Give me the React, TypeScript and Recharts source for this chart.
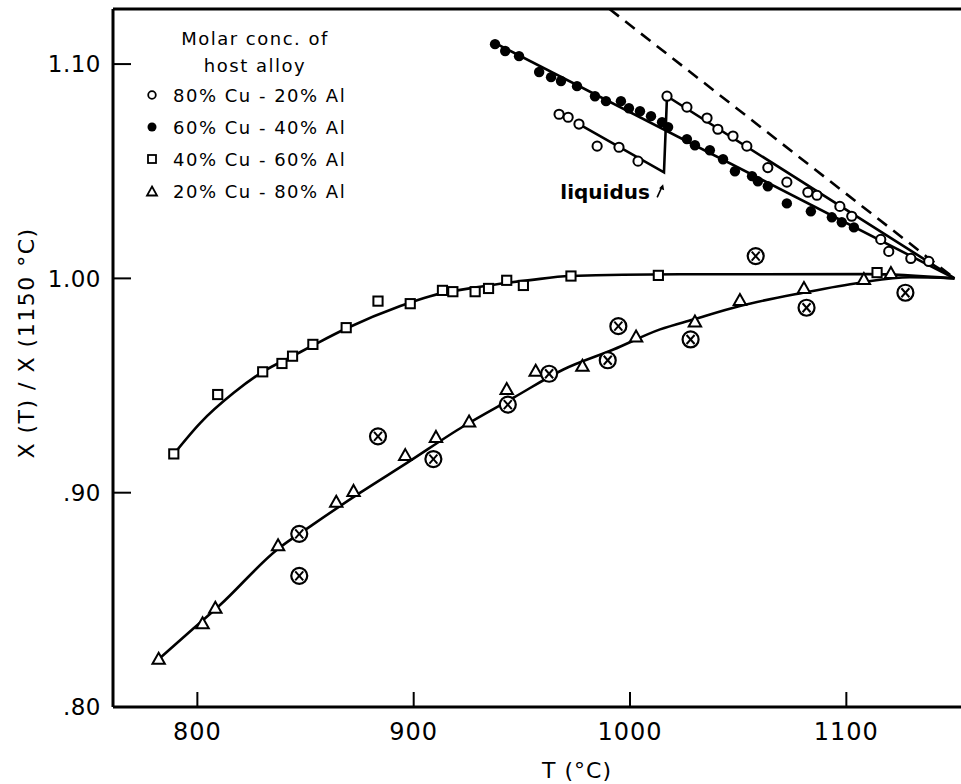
import React from 'react';
import {
  ComposedChart,
  Line,
  Scatter,
  XAxis,
  YAxis,
  ReferenceLine,
  ReferenceDot,
  Legend,
  Label,
} from 'recharts';

const FONT = '"DejaVu Sans", sans-serif';

const X_DOMAIN = [761, 1153];
const Y_MAX = 1.1257;
const Y_DOMAIN = [0.8, Y_MAX];
const xTicks = [800, 900, 1000, 1100];
const yTicks = [0.8, 0.9, 1.0, 1.1];
const yTickLabels: Record<string, string> = { '0.8': '.80', '0.9': '.90', '1': '1.00', '1.1': '1.10' };

// 80% Cu - 20% Al (open circles)
const cu80Points = [
  { T: 967.2, y: 1.0766 }, { T: 971.4, y: 1.0752 }, { T: 976.4, y: 1.072 },
  { T: 984.8, y: 1.0617 }, { T: 994.9, y: 1.0612 }, { T: 1003.7, y: 1.0547 },
  { T: 1017.1, y: 1.085 }, { T: 1026.3, y: 1.0799 }, { T: 1035.6, y: 1.0748 },
  { T: 1040.6, y: 1.0696 }, { T: 1047.6, y: 1.0664 }, { T: 1054.0, y: 1.0617 },
  { T: 1063.7, y: 1.0517 }, { T: 1072.5, y: 1.0449 }, { T: 1082.2, y: 1.0402 },
  { T: 1086.4, y: 1.0388 }, { T: 1097.0, y: 1.0336 }, { T: 1102.5, y: 1.029 },
  { T: 1115.9, y: 1.0182 }, { T: 1119.6, y: 1.0126 }, { T: 1129.8, y: 1.0093 },
  { T: 1138.1, y: 1.0079 },
];
const cu80Fit = [
  { T: 976.4, y: 1.072 }, { T: 1015.7, y: 1.0495 }, { T: 1017.1, y: 1.085 }, { T: 1150, y: 1.0 },
];

// 60% Cu - 40% Al (filled circles)
const cu60Points = [
  { T: 937.6, y: 1.1093 }, { T: 942.3, y: 1.1061 }, { T: 948.7, y: 1.1037 },
  { T: 958.0, y: 1.0963 }, { T: 963.5, y: 1.0939 }, { T: 968.1, y: 1.0921 },
  { T: 975.5, y: 1.0897 }, { T: 983.8, y: 1.085 }, { T: 988.9, y: 1.0827 },
  { T: 995.8, y: 1.0827 }, { T: 999.5, y: 1.0794 }, { T: 1004.6, y: 1.078 },
  { T: 1009.7, y: 1.0757 }, { T: 1014.8, y: 1.0729 }, { T: 1017.6, y: 1.0706 },
  { T: 1026.3, y: 1.065 }, { T: 1030.0, y: 1.0621 }, { T: 1036.9, y: 1.0598 },
  { T: 1043.0, y: 1.0556 }, { T: 1048.5, y: 1.05 }, { T: 1056.4, y: 1.0477 },
  { T: 1059.1, y: 1.0453 }, { T: 1063.7, y: 1.043 }, { T: 1072.5, y: 1.035 },
  { T: 1083.6, y: 1.0313 }, { T: 1093.3, y: 1.0285 }, { T: 1097.9, y: 1.0262 },
  { T: 1103.5, y: 1.0238 },
];
const cu60Fit = [{ T: 937.6, y: 1.1098 }, { T: 1150, y: 1.0 }];

// Dashed reference line
const dashedLine = [{ T: 990.5, y: Y_MAX }, { T: 1150, y: 1.0 }];

// 40% Cu - 60% Al (squares)
const cu40Points = [
  { T: 789.1, y: 0.9181 }, { T: 809.4, y: 0.9458 }, { T: 830.2, y: 0.9564 },
  { T: 839.1, y: 0.9603 }, { T: 844.0, y: 0.9637 }, { T: 853.4, y: 0.9692 },
  { T: 868.8, y: 0.977 }, { T: 883.5, y: 0.9894 }, { T: 898.4, y: 0.9882 },
  { T: 913.3, y: 0.9944 }, { T: 918.1, y: 0.9938 }, { T: 928.4, y: 0.9938 },
  { T: 934.6, y: 0.9953 }, { T: 943.0, y: 0.9991 }, { T: 950.7, y: 0.9967 },
  { T: 972.7, y: 1.0011 }, { T: 1013.1, y: 1.0014 }, { T: 1114.2, y: 1.0027 },
];
const cu40Fit = [
  { T: 789.1, y: 0.918 }, { T: 801.4, y: 0.9326 }, { T: 816.8, y: 0.9466 },
  { T: 830.2, y: 0.9564 }, { T: 844.0, y: 0.9637 }, { T: 853.4, y: 0.9687 },
  { T: 868.8, y: 0.9766 }, { T: 893.8, y: 0.9871 }, { T: 907.6, y: 0.9917 },
  { T: 930.7, y: 0.9961 }, { T: 953.8, y: 0.9992 }, { T: 972.3, y: 1.0011 },
  { T: 1023, y: 1.0019 }, { T: 1110, y: 1.002 }, { T: 1150, y: 1.0 },
];

// 20% Cu - 80% Al (triangles)
const cu20Points = [
  { T: 782.1, y: 0.8223 }, { T: 802.4, y: 0.8388 }, { T: 808.3, y: 0.8461 },
  { T: 837.3, y: 0.8752 }, { T: 864.2, y: 0.8955 }, { T: 872.2, y: 0.9006 },
  { T: 896.1, y: 0.9173 }, { T: 910.3, y: 0.9258 }, { T: 925.6, y: 0.933 },
  { T: 943.0, y: 0.9481 }, { T: 956.4, y: 0.9567 }, { T: 978.0, y: 0.959 },
  { T: 1002.8, y: 0.9726 }, { T: 1030.0, y: 0.9796 }, { T: 1050.8, y: 0.9897 },
  { T: 1080.4, y: 0.9953 }, { T: 1108.1, y: 0.9995 }, { T: 1120.6, y: 1.0023 },
];
const cu20Fit = [
  { T: 782.1, y: 0.8223 }, { T: 797.5, y: 0.836 }, { T: 810.6, y: 0.8477 },
  { T: 836.8, y: 0.8734 }, { T: 852.2, y: 0.8843 }, { T: 875.3, y: 0.9 },
  { T: 896.9, y: 0.9139 }, { T: 923.0, y: 0.931 }, { T: 946.1, y: 0.9443 },
  { T: 969.2, y: 0.9575 }, { T: 992.3, y: 0.9668 }, { T: 1013.9, y: 0.9762 },
  { T: 1029.2, y: 0.9808 }, { T: 1050.8, y: 0.9871 }, { T: 1080.0, y: 0.9933 },
  { T: 1106.2, y: 0.998 }, { T: 1129.3, y: 1.0005 }, { T: 1150, y: 1.0 },
];

// Crossed circles (unlabelled)
const crossedPoints = [
  { T: 847.1, y: 0.8808 }, { T: 847.1, y: 0.8612 }, { T: 883.5, y: 0.9263 },
  { T: 909.1, y: 0.9157 }, { T: 943.5, y: 0.9411 }, { T: 962.6, y: 0.9555 },
  { T: 989.7, y: 0.9618 }, { T: 994.6, y: 0.9777 }, { T: 1028.0, y: 0.9715 },
  { T: 1058.1, y: 1.0104 }, { T: 1081.6, y: 0.9863 }, { T: 1127.3, y: 0.9933 },
];

const liquidusLabel = { T: 988.5, y: 1.0369, text: 'liquidus' };

const legendTitle = ['Molar conc. of', 'host alloy'];
const legendItems = [
  { key: 'open', label: '80% Cu - 20% Al' },
  { key: 'filled', label: '60% Cu - 40% Al' },
  { key: 'square', label: '40% Cu - 60% Al' },
  { key: 'triangle', label: '20% Cu - 80% Al' },
];

const OpenCircle = (p: any) => (
  <circle cx={p.cx} cy={p.cy} r={4.6} fill="#fff" stroke="#000" strokeWidth={2} />
);
const FilledCircle = (p: any) => <circle cx={p.cx} cy={p.cy} r={5.2} fill="#000" />;
const Square = (p: any) => (
  <rect x={p.cx - 4.6} y={p.cy - 4.6} width={9.2} height={9.2} fill="#fff" stroke="#000" strokeWidth={2} />
);
const Triangle = (p: any) => (
  <path
    d={`M${p.cx},${p.cy - 6.5} L${p.cx + 6.2},${p.cy + 4.5} L${p.cx - 6.2},${p.cy + 4.5} Z`}
    fill="#fff"
    stroke="#000"
    strokeWidth={2}
  />
);
const Crossed = (p: any) => (
  <g>
    <circle cx={p.cx} cy={p.cy} r={8} fill="#fff" stroke="#000" strokeWidth={2.2} />
    <line x1={p.cx - 4} y1={p.cy - 4.5} x2={p.cx + 4} y2={p.cy + 4.5} stroke="#000" strokeWidth={2} />
    <line x1={p.cx + 4} y1={p.cy - 4.5} x2={p.cx - 4} y2={p.cy + 4.5} stroke="#000" strokeWidth={2} />
  </g>
);

const LegendMarker = ({ kind }: { kind: string }) => (
  <svg width={14} height={14} style={{ display: 'block' }}>
    {kind === 'open' && <circle cx={7} cy={7} r={3.8} fill="#fff" stroke="#000" strokeWidth={1.8} />}
    {kind === 'filled' && <circle cx={7} cy={7} r={4.5} fill="#000" />}
    {kind === 'square' && <rect x={3} y={3} width={8} height={8} fill="#fff" stroke="#000" strokeWidth={1.8} />}
    {kind === 'triangle' && <path d="M7,2.5 L12,11.5 L2,11.5 Z" fill="#fff" stroke="#000" strokeWidth={1.8} />}
  </svg>
);

const LegendBox = () => (
  <div style={{ fontFamily: FONT, fontSize: 18, color: '#000', width: 230, letterSpacing: 1.5 }}>
    <div style={{ textAlign: 'center', lineHeight: '27px' }}>
      {legendTitle.map((t) => (
        <div key={t}>{t}</div>
      ))}
    </div>
    {legendItems.map((it) => (
      <div key={it.key} style={{ display: 'flex', alignItems: 'center', height: 32 }}>
        <div style={{ marginLeft: 5, width: 14 }}>
          <LegendMarker kind={it.key} />
        </div>
        <div style={{ marginLeft: 14, whiteSpace: 'nowrap' }}>{it.label}</div>
      </div>
    ))}
  </div>
);

const XTick = (p: any) => (
  <g>
    <line x1={p.x} x2={p.x} y1={p.y} y2={p.y - 15} stroke="#000" strokeWidth={2} />
    <text x={p.x} y={p.y + 33} textAnchor="middle" fontSize={24} letterSpacing={1} fontFamily={FONT} fill="#000">
      {p.payload.value}
    </text>
  </g>
);

const YTick = (p: any) => (
  <g>
    <line x1={p.x} x2={p.x + 18} y1={p.y} y2={p.y} stroke="#000" strokeWidth={2} />
    <text x={p.x - 12} y={p.y} dy="0.36em" textAnchor="end" fontSize={23} letterSpacing={0.5} fontFamily={FONT} fill="#000">
      {yTickLabels[String(p.payload.value)]}
    </text>
  </g>
);

const XAxisLabel = (p: any) => {
  const vb = p.viewBox;
  return (
    <text x={vb.x + vb.width / 2 + 40} y={vb.y + vb.height - 6} textAnchor="middle" fontSize={22} fontFamily={FONT} fill="#000" letterSpacing={1}>
      T (°C)
    </text>
  );
};

const YAxisLabel = (p: any) => {
  const vb = p.viewBox;
  const cx = vb.x + 26;
  const cy = vb.y + vb.height / 2 - 15;
  return (
    <text
      x={cx}
      y={cy}
      transform={`rotate(-90, ${cx}, ${cy})`}
      textAnchor="middle"
      dominantBaseline="central"
      fontSize={22}
      fontFamily={FONT}
      fill="#000"
      letterSpacing={1.5}
    >
      X (T) / X (1150 °C)
    </text>
  );
};

const LiquidusLabel = (p: any) => {
  const vb = p.viewBox;
  const x = vb.x + (vb.width || 0) / 2;
  const y = vb.y + (vb.height || 0) / 2;
  return (
    <g>
      <text x={x} y={y} textAnchor="middle" fontSize={20} fontWeight="bold" fontFamily={FONT} fill="#000">
        {liquidusLabel.text}
      </text>
      <path d={`M${x + 52},${y - 2} L${x + 57},${y - 13}`} stroke="#000" strokeWidth={1.6} fill="none" />
      <path d={`M${x + 54},${y - 11} L${x + 58},${y - 15} L${x + 59},${y - 9} Z`} fill="#000" />
    </g>
  );
};

export default function App() {
  return (
    <div style={{ position: 'absolute', left: 0, top: 0 }}>
      <ComposedChart width={961} height={784} margin={{ top: 9, right: 0, bottom: 0, left: 0 }}>
        <XAxis
          dataKey="T"
          type="number"
          domain={X_DOMAIN}
          allowDataOverflow
          ticks={xTicks}
          tickSize={0}
          tickMargin={0}
          tick={<XTick />}
          height={77}
          axisLine={{ stroke: '#000', strokeWidth: 3 }}
          label={<Label content={XAxisLabel} />}
        />
        <YAxis
          dataKey="y"
          type="number"
          domain={Y_DOMAIN}
          allowDataOverflow
          ticks={yTicks}
          tickSize={0}
          tickMargin={0}
          tick={<YTick />}
          width={113}
          axisLine={{ stroke: '#000', strokeWidth: 3 }}
          label={<Label content={YAxisLabel} />}
        />
        <ReferenceLine y={Y_MAX} stroke="#000" strokeWidth={3} />
        <Legend
          layout="vertical"
          align="center"
          verticalAlign="middle"
          wrapperStyle={{ left: 140, top: 25, width: 230 }}
          content={<LegendBox />}
        />

        <Line data={dashedLine} dataKey="y" type="linear" stroke="#000" strokeWidth={2.6} strokeDasharray="12 8" dot={false} isAnimationActive={false} legendType="none" />
        <Line data={cu80Fit} dataKey="y" type="linear" stroke="#000" strokeWidth={2.6} dot={false} isAnimationActive={false} legendType="none" />
        <Line data={cu60Fit} dataKey="y" type="linear" stroke="#000" strokeWidth={2.6} dot={false} isAnimationActive={false} legendType="none" />
        <Line data={cu40Fit} dataKey="y" type="monotone" stroke="#000" strokeWidth={2.6} dot={false} isAnimationActive={false} legendType="none" />
        <Line data={cu20Fit} dataKey="y" type="monotone" stroke="#000" strokeWidth={2.6} dot={false} isAnimationActive={false} legendType="none" />

        <Scatter name="60% Cu - 40% Al" data={cu60Points} dataKey="y" shape={FilledCircle} isAnimationActive={false} />
        <Scatter name="80% Cu - 20% Al" data={cu80Points} dataKey="y" shape={OpenCircle} isAnimationActive={false} />
        <Scatter name="40% Cu - 60% Al" data={cu40Points} dataKey="y" shape={Square} isAnimationActive={false} />
        <Scatter name="20% Cu - 80% Al" data={cu20Points} dataKey="y" shape={Triangle} isAnimationActive={false} />
        <Scatter name="crossed" data={crossedPoints} dataKey="y" shape={Crossed} isAnimationActive={false} />

        <ReferenceDot x={liquidusLabel.T} y={liquidusLabel.y} r={0} stroke="none" fill="none" label={<Label content={LiquidusLabel} />} />
      </ComposedChart>
    </div>
  );
}
